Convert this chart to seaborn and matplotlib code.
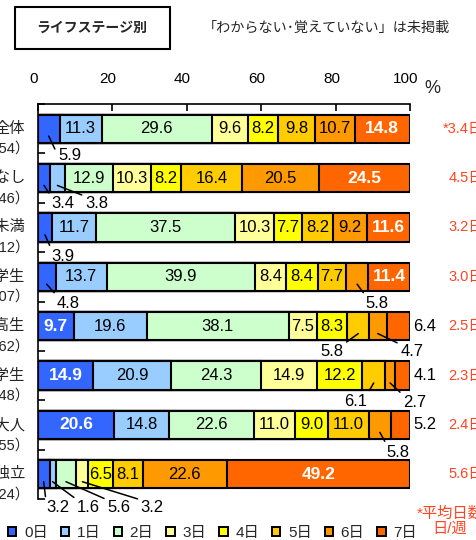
import numpy as np
import matplotlib
matplotlib.use("Agg")
import matplotlib.pyplot as plt
from matplotlib.patches import Rectangle, Patch
from matplotlib.transforms import ScaledTranslation
import seaborn as sns

# ---------------- data ----------------
categories = ["全体", "子どもなし", "末子3歳未満", "末子小学生", "末子中高生", "末子大学生", "末子大人", "子ども独立"]
sample_sizes = ["（n=1,954）", "（n=746）", "（n=1,012）", "（n=607）", "（n=862）", "（n=148）", "（n=155）", "（n=224）"]
day_labels = ["0日", "1日", "2日", "3日", "4日", "5日", "6日", "7日"]
day0 = [5.9, 3.4, 3.9, 4.8, 9.7, 14.9, 20.6, 3.2]
day1 = [11.3, 3.8, 11.7, 13.7, 19.6, 20.9, 14.8, 1.6]
day2 = [29.6, 12.9, 37.5, 39.9, 38.1, 24.3, 22.6, 5.6]
day3 = [9.6, 10.3, 10.3, 8.4, 7.5, 14.9, 11.0, 3.2]
day4 = [8.2, 8.2, 7.7, 8.4, 8.3, 12.2, 9.0, 6.5]
day5 = [9.8, 16.4, 8.2, 7.7, 5.8, 6.1, 11.0, 8.1]
day6 = [10.7, 20.5, 9.2, 5.8, 4.7, 2.7, 5.8, 22.6]
day7 = [14.8, 24.5, 11.6, 11.4, 6.4, 4.1, 5.2, 49.2]
avg_days = ["*3.4日", "4.5日", "3.2日", "3.0日", "2.5日", "2.3日", "2.4日", "5.6日"]
xticks = [0, 20, 40, 60, 80, 100]

# ---------------- style ----------------
colors = ["#3366FF", "#99CCFF", "#CCFFCC", "#FFFF99", "#FFFF00", "#FFCC00", "#FF9900", "#FF6600"]
red = "#FF4422"
# callouts with leader lines: (row, segment, label x, label dy, relpos x, relpos y)
callouts = [
    (0, 0, 8.6, 0.55, 0, 0.5),
    (1, 0, 6.7, 0.52, 0, 1), (1, 1, 15.8, 0.52, 0, 1),
    (2, 0, 6.7, 0.58, 0, 1),
    (3, 0, 8.3, 0.54, 0, 1), (3, 6, 91.2, 0.54, 0, 1),
    (4, 5, 79.0, 0.52, 1, 1), (4, 6, 100.5, 0.52, 0, 1),
    (5, 5, 85.5, 0.52, 1, 1), (5, 6, 101.3, 0.55, 0, 1),
    (6, 6, 96.8, 0.55, 0, 1),
    (7, 0, 5.3, 0.67, 0, 1), (7, 1, 13.7, 0.67, 0, 1), (7, 2, 21.8, 0.67, 0, 1), (7, 3, 30.8, 0.67, 0, 1),
]
side_labels = [(4, 7), (5, 7), (6, 7)]

sns.set_theme(style="white")
plt.rcParams["font.family"] = ["Liberation Sans", "Noto Sans CJK JP", "DejaVu Sans"]

vals = np.array([day0, day1, day2, day3, day4, day5, day6, day7]).T  # rows x segments
cum = np.cumsum(vals, axis=1)
n_rows, n_seg = vals.shape

fig = plt.figure(figsize=(4.77, 5.4), dpi=100)
ax = fig.add_axes([37.7 / 477, 1 - 499 / 540, (410 - 37.7) / 477, (499 - 104) / 540])

for k in range(n_seg - 1, -1, -1):
    sns.barplot(x=list(cum[:, k]), y=categories, orient="y", color=colors[k], saturation=1,
                width=0.57, edgecolor="black", linewidth=1.5, ax=ax)

ax.set_xlim(0, 100)
ax.set_ylim(n_rows - 0.5, -0.5)
ax.set_xlabel("")
ax.set_ylabel("")

# axes styling
ax.xaxis.tick_top()
ax.set_xticks(xticks)
ax.set_xticklabels([str(t) for t in xticks], fontsize=11)
ax.tick_params(axis="x", direction="in", length=5, width=1.2, color="black", pad=13, labelcolor="black")
shift = ScaledTranslation(-4 / 100, 0, fig.dpi_scale_trans)
for lab in ax.get_xticklabels():
    lab.set_transform(lab.get_transform() + shift)
ax.set_yticks([i + 0.5 for i in range(-1, n_rows)])
ax.set_yticklabels([])
ax.tick_params(axis="y", direction="in", length=5, width=1.2, color="black", left=True)
for s in ["right", "bottom"]:
    ax.spines[s].set_visible(False)
for s in ["top", "left"]:
    ax.spines[s].set_color("black")
    ax.spines[s].set_linewidth(1.2)

# value labels
outside = {(r, k) for r, k, *_ in callouts} | set(side_labels)
for r in range(n_rows):
    for k in range(n_seg):
        if (r, k) in outside:
            continue
        cx = cum[r, k] - vals[r, k] / 2
        if k in (0, 7):
            ax.text(cx, r, f"{vals[r, k]:.1f}", ha="center", va="center", fontsize=12.5,
                    color="white", fontweight="bold")
        else:
            ax.text(cx, r, f"{vals[r, k]:.1f}", ha="center", va="center", fontsize=12, color="black")

for r, k, lx, dy, rx, ry in callouts:
    cx = cum[r, k] - vals[r, k] / 2
    ax.annotate(f"{vals[r, k]:.1f}", xy=(cx, r + 0.15), xytext=(lx, r + dy),
                ha="center", va="center", fontsize=12, color="black", annotation_clip=False,
                arrowprops=dict(arrowstyle="-", color="black", lw=1.1, shrinkA=0, shrinkB=0,
                                relpos=(rx, ry)))

for r, k in side_labels:
    ax.text(104, r, f"{vals[r, k]:.1f}", ha="center", va="center", fontsize=12,
            color="black", clip_on=False)

# category labels (left) and averages (right)
for r in range(n_rows):
    ax.text(-3.4, r, categories[r], ha="right", va="center", fontsize=11, clip_on=False)
    ax.text(-1.9, r + 0.41, sample_sizes[r], ha="right", va="center", fontsize=10.5, clip_on=False)
    ax.text(119.7, r, avg_days[r], ha="right", va="center", fontsize=10.5, color=red, clip_on=False)

# title box and note
fig.add_artist(Rectangle((15 / 477, 1 - 49 / 540), 155 / 477, 42 / 540, transform=fig.transFigure,
                         facecolor="white", edgecolor="black", linewidth=1.5))
fig.text(92 / 477, 1 - 28 / 540, "ライフステージ別", ha="center", va="center", fontsize=10,
         fontweight="bold")
fig.text(326 / 477, 1 - 28 / 540, "「わからない･覚えていない」は未掲載", ha="center", va="center",
         fontsize=10.2)
fig.text(432 / 477, 1 - 89 / 540, "%", ha="center", va="center", fontsize=13)
fig.text(450 / 477, 1 - 521 / 540, "*平均日数\n日/週", ha="center", va="center", fontsize=11,
         color=red, linespacing=1.1)

# legend
handles = [Patch(facecolor=c, edgecolor="black", linewidth=1.4, label=l) for c, l in zip(colors, day_labels)]
fig.legend(handles=handles, loc="center left", bbox_to_anchor=(8 / 477, 1 - 533 / 540), ncol=8,
           frameon=False, fontsize=11, handlelength=0.55, handleheight=0.55, handletextpad=0.5,
           columnspacing=0.85, borderpad=0, borderaxespad=0)

fig.savefig("out.png", dpi=100)
